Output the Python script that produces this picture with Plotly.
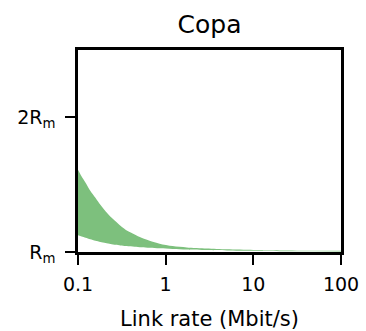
import plotly.graph_objects as go

# Data
rate = [0.1, 0.11, 0.122, 0.138, 0.158, 0.18, 0.206, 0.235, 0.268, 0.305, 0.349, 0.4, 0.443, 0.53, 0.656,
        0.853, 1.2, 1.74, 2.94, 5, 10, 20, 50, 100]
upper = [1.61, 1.56, 1.514, 1.455, 1.402, 1.35, 1.302, 1.262, 1.228, 1.195, 1.166, 1.145, 1.13, 1.105, 1.084,
         1.062, 1.044, 1.034, 1.026, 1.02, 1.015, 1.012, 1.01, 1.009]
lower = [1.125, 1.115, 1.106, 1.095, 1.084, 1.075, 1.067, 1.06, 1.054, 1.049, 1.045, 1.042, 1.039, 1.035, 1.031,
         1.027, 1.023, 1.019, 1.015, 1.012, 1.009, 1.006, 1.005, 1.004]

x_ticks = [0.1, 1, 10, 100]
x_ticktext = ["0.1", "1", "10", "100"]
y_ticks = [1, 2]
y_ticktext = ["R<sub>m</sub>", "2R<sub>m</sub>"]

FONT = "DejaVu Sans"
FILL = "rgb(125,192,125)"

fig = go.Figure()
fig.add_trace(go.Scatter(x=rate, y=lower, mode="lines", line=dict(width=0, shape="spline", smoothing=0.8),
                         showlegend=False, hoverinfo="skip"))
fig.add_trace(go.Scatter(x=rate, y=upper, mode="lines", line=dict(width=0, shape="spline", smoothing=0.8),
                         fill="tonexty", fillcolor=FILL, showlegend=False, hoverinfo="skip"))

fig.update_layout(
    width=366, height=331,
    margin=dict(l=78, r=25, t=50, b=79),
    paper_bgcolor="white", plot_bgcolor="white",
    font=dict(family=FONT, color="black", size=19),
    title=dict(text="Copa", x=(78 + 341) / 2 / 366, xanchor="center",
               y=1 - 24 / 331, yanchor="middle", yref="container",
               font=dict(size=25, family=FONT, color="black")),
)
fig.update_xaxes(
    type="log", range=[-1, 2], automargin=False,
    tickvals=x_ticks, ticktext=x_ticktext,
    ticks="outside", ticklen=10, tickwidth=2, tickcolor="black",
    ticklabelstandoff=3,
    showline=True, linewidth=2.5, linecolor="black", mirror=True,
    showgrid=False, zeroline=False,
    title=dict(text="Link rate (Mbit/s)", font=dict(size=21, family=FONT), standoff=18),
    tickfont=dict(size=19, family=FONT),
)
fig.update_yaxes(
    range=[1, 2.5], automargin=False,
    tickvals=y_ticks, ticktext=y_ticktext,
    ticks="outside", ticklen=10, tickwidth=2, tickcolor="black",
    ticklabelstandoff=6,
    showline=True, linewidth=2.5, linecolor="black", mirror=True,
    showgrid=False, zeroline=False,
    tickfont=dict(size=19, family=FONT),
)

fig.write_html("out.html")
